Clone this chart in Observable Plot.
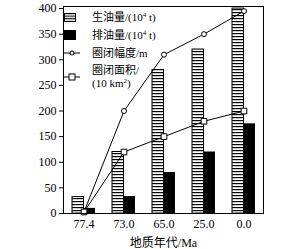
<!DOCTYPE html>
<html><head><meta charset="utf-8">
<script src="https://cdn.jsdelivr.net/npm/d3@7"></script>
<script src="https://cdn.jsdelivr.net/npm/@observablehq/plot@0.6"></script>
<style>
body{margin:0;background:#fff;}
#wrap{position:relative;width:289px;height:249px;}
#legend{position:absolute;left:64px;top:8px;font-family:"Liberation Serif","Noto Sans CJK SC",serif;font-size:11px;color:#000;line-height:1;}
.item{display:flex;align-items:center;height:18px;}
.item svg{flex:none;}
.item span{position:absolute;left:28px;}
</style>
</head><body>
<div id="wrap"><div id="legend"></div></div>
<script>
const ages = ["77.4","73.0","65.0","25.0","0.0"];
const generation = [32,120,280,320,400];
const expulsion = [10,33,80,120,175];
const trapAmplitude = [3,200,310,350,395];
const trapArea = [3,120,150,180,200];
const yTicks = [0,50,100,150,200,250,300,350,400];

const rows = ages.map((a,i)=>({age:a, gen:generation[i], exp:expulsion[i], amp:trapAmplitude[i], area:trapArea[i]}));
const bw = 23;

const chart = Plot.plot({
  width: 289, height: 249,
  marginLeft: 63, marginRight: 26, marginTop: 6, marginBottom: 36,
  style: {fontFamily: '"Liberation Serif","Noto Sans CJK SC",serif', fontSize: "12px", color: "#000", background: "#fff"},
  x: {type: "band", domain: ages, paddingInner: 0.425, paddingOuter: 0.2125, tickSize: 0, tickPadding: 6, label: "地质年代/Ma", labelAnchor: "center", labelOffset: 33},
  y: {domain: [0, 404], ticks: yTicks, tickSize: 4, tickPadding: 3, label: null},
  marks: [
    Plot.barY(rows, {x: "age", y: "gen", fill: "url(#hstripe)", stroke: "#000", strokeWidth: 1, insetRight: bw/2}),
    Plot.barY(rows, {x: "age", y: "exp", fill: "#000", insetLeft: bw/2}),
    Plot.line(rows, {x: "age", y: "amp", stroke: "#000", strokeWidth: 1}),
    Plot.line(rows, {x: "age", y: "area", stroke: "#000", strokeWidth: 1}),
    Plot.dot(rows, {x: "age", y: "amp", r: 2.5, fill: "#fff", stroke: "#000", strokeWidth: 1}),
    Plot.dot(rows, {x: "age", y: "area", symbol: "square", r: 3.2, fill: "#fff", stroke: "#000", strokeWidth: 1}),
    Plot.frame({stroke: "#000", strokeWidth: 1})
  ]
});

const ns = "http://www.w3.org/2000/svg";
const defs = document.createElementNS(ns, "defs");
defs.innerHTML = '<pattern id="hstripe" patternUnits="userSpaceOnUse" width="6" height="3"><rect width="6" height="3" fill="#fff"/><rect y="0" width="6" height="1.2" fill="#000"/></pattern>';
chart.insertBefore(defs, chart.firstChild);
document.getElementById("wrap").insertBefore(chart, document.getElementById("legend"));

const legend = document.getElementById("legend");
const items = [
  {sw: '<svg width="12" height="9"><rect x="0.5" y="0.5" width="11" height="8" fill="url(#hstripe2)" stroke="#000"/><defs><pattern id="hstripe2" patternUnits="userSpaceOnUse" width="6" height="2.6"><rect width="6" height="2.6" fill="#fff"/><rect width="6" height="1.1" fill="#000"/></pattern></defs></svg>', text: "生油量/(10<sup>4</sup> t)"},
  {sw: '<svg width="12" height="10"><rect x="0" y="0" width="12" height="10" fill="#000"/></svg>', text: "排油量/(10<sup>4</sup> t)"},
  {sw: '<svg width="16" height="8"><line x1="0" y1="4" x2="16" y2="4" stroke="#000"/><circle cx="8" cy="4" r="2" fill="#fff" stroke="#000"/></svg>', text: "圈闭幅度/m"},
  {sw: '<svg width="16" height="8"><line x1="0" y1="4" x2="16" y2="4" stroke="#000"/><rect x="5" y="1" width="6" height="6" fill="#fff" stroke="#000"/></svg>', text: "圈闭面积/<br>(10 km<sup>2</sup>)", tall: true}
];
for (const it of items) {
  const d = document.createElement("div");
  d.className = "item";
  d.style.position = "relative";
  if (it.tall) d.style.height = "30px";
  d.innerHTML = it.sw + '<span style="line-height:1.15;white-space:nowrap">' + it.text.replace(/<sup>/g,'<sup style="font-size:7px;vertical-align:4px;line-height:0">') + '</span>';
  legend.appendChild(d);
}
</script>
</body></html>
